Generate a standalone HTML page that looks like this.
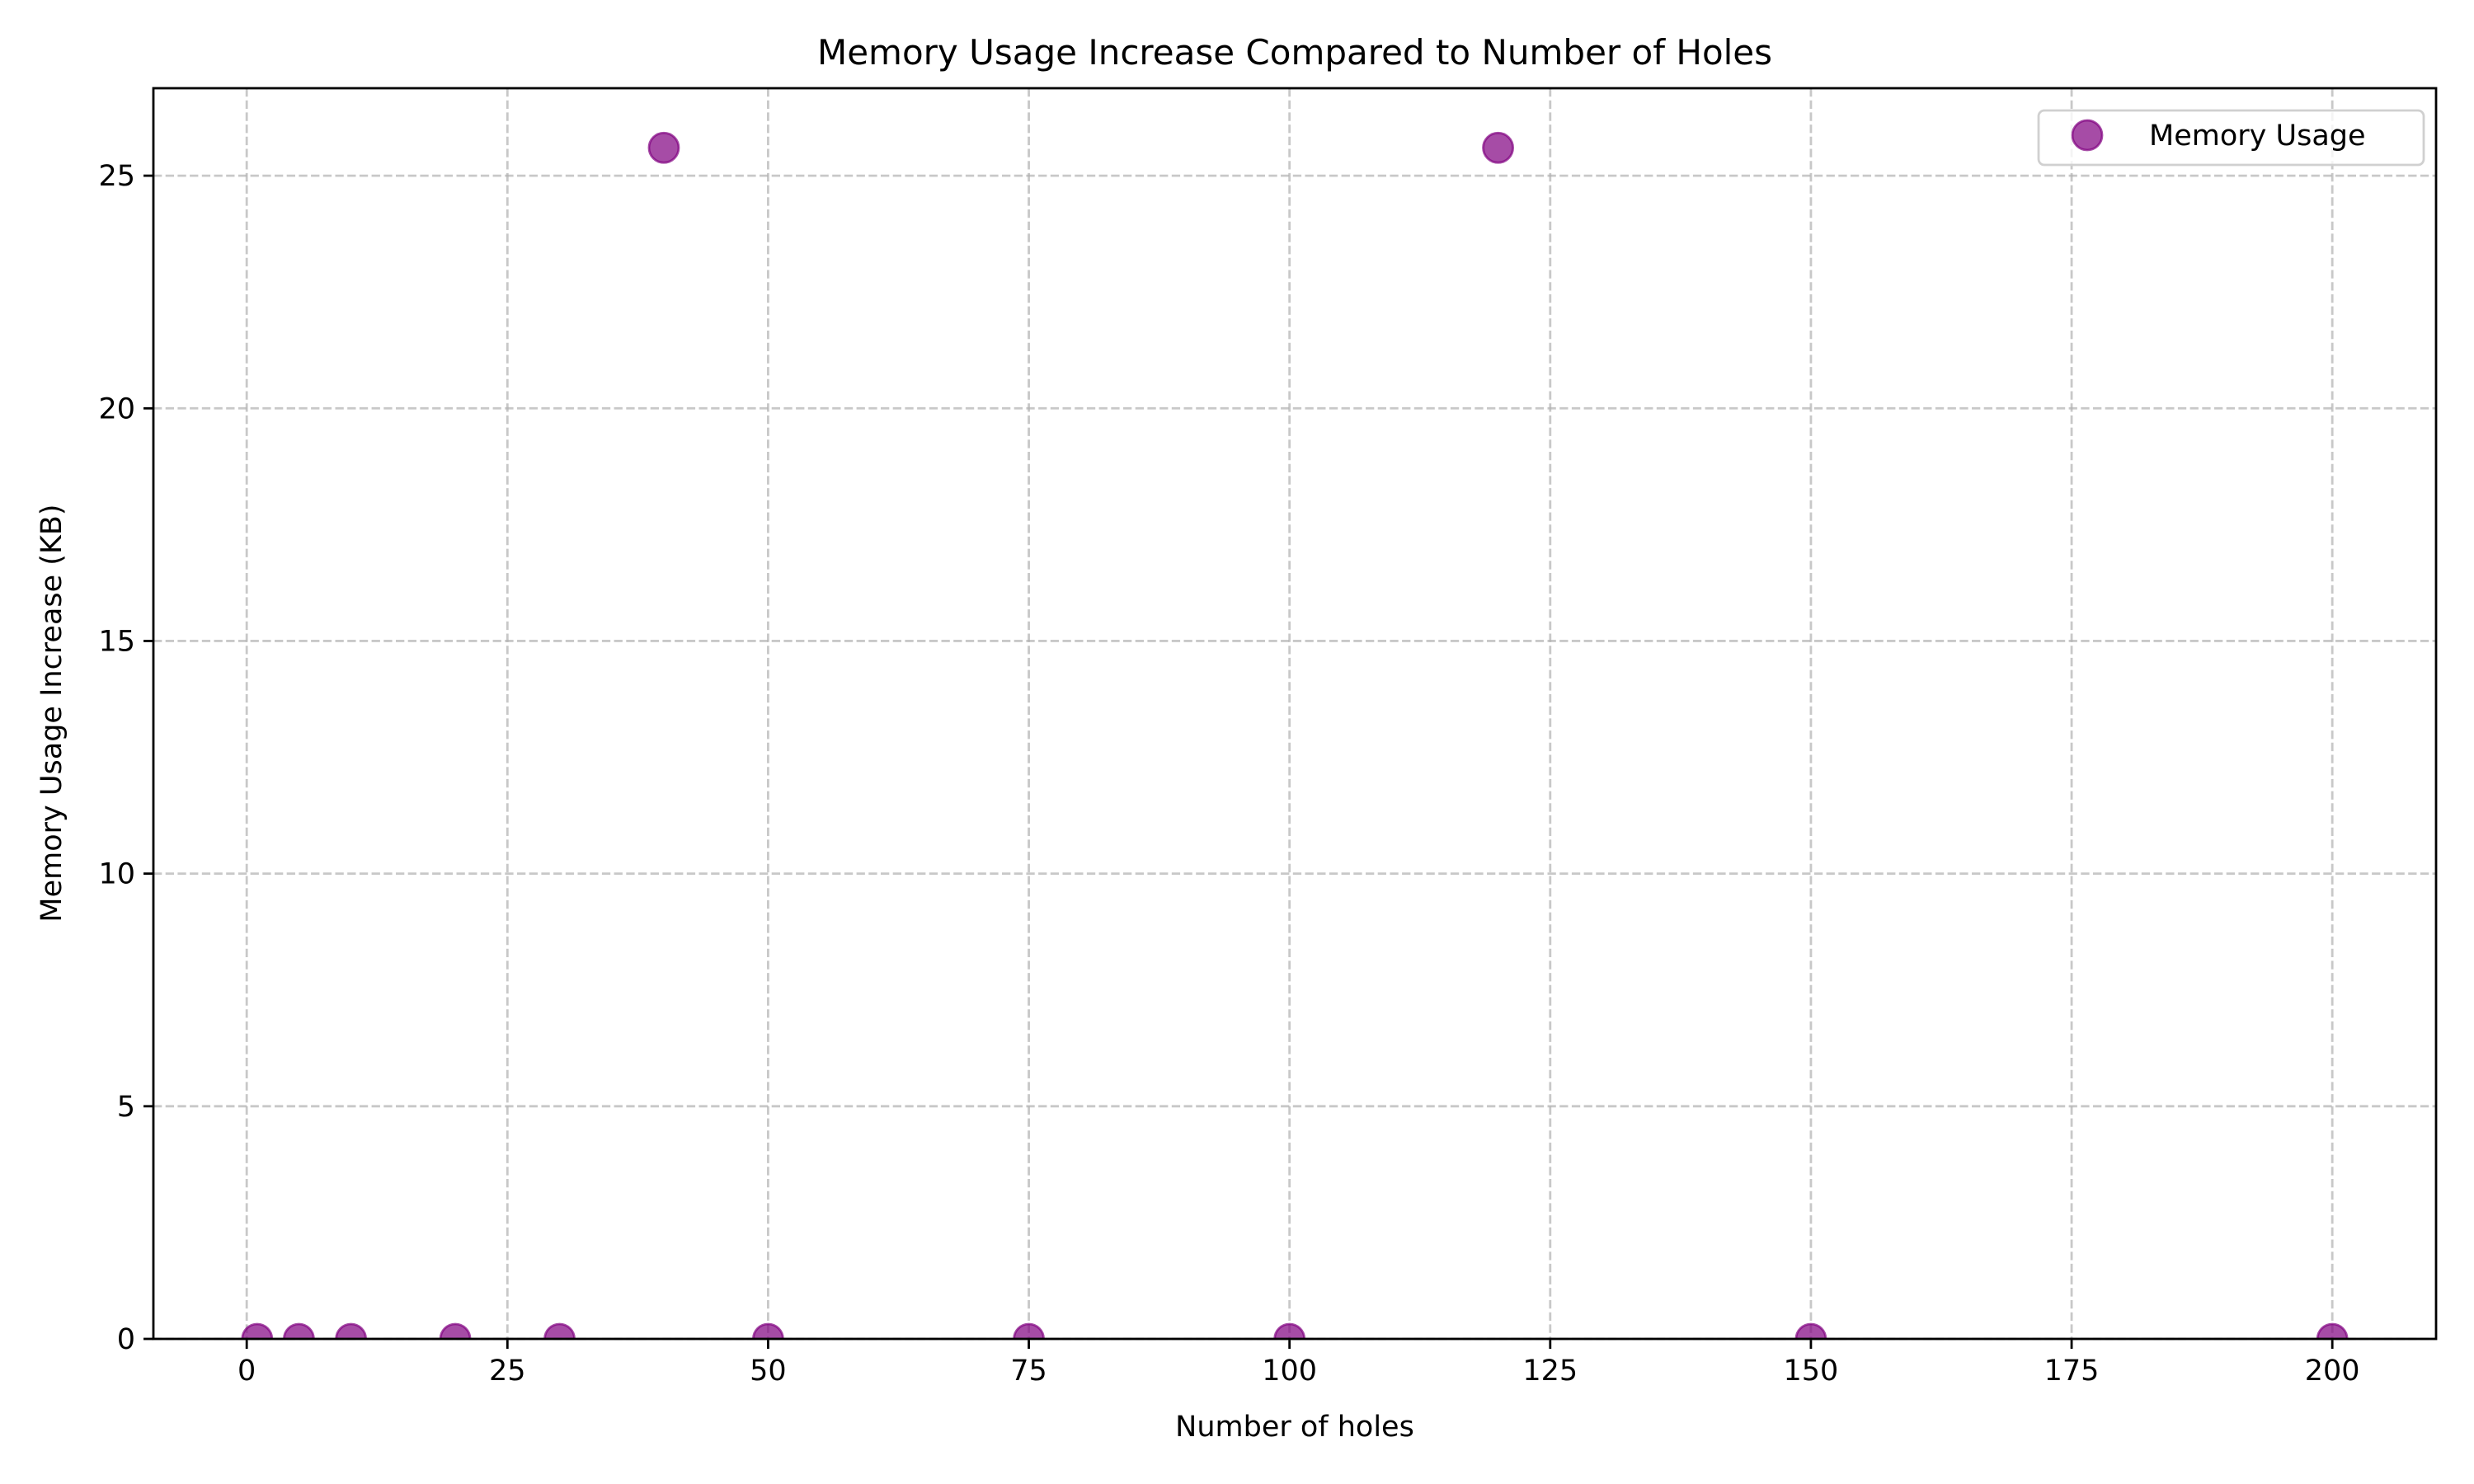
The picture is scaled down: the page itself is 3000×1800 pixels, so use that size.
<!DOCTYPE html>
<html><head><meta charset="utf-8"><style>
body{margin:0;background:#fff}
svg{display:block;font-family:"DejaVu Sans","Liberation Sans",sans-serif}
</style></head><body>
<svg id="chart" width="3000" height="1800" viewBox="0 0 3000 1800" xmlns="http://www.w3.org/2000/svg">
<defs><clipPath id="plotclip"><rect x="186" y="107" width="2768" height="1517"/></clipPath></defs>
<rect width="3000" height="1800" fill="#fff"/>
<text x="1570" y="78" font-size="42" text-anchor="middle">Memory Usage Increase Compared to Number of Holes</text>
<text x="1570" y="1742" font-size="35" text-anchor="middle">Number of holes</text>
<text x="0" y="0" font-size="35" text-anchor="middle" transform="translate(74,865) rotate(-90)">Memory Usage Increase (KB)</text>
<g id="grid"></g>
<g id="marks" clip-path="url(#plotclip)"></g>
<rect x="186" y="107" width="2768" height="1517" fill="none" stroke="#000" stroke-width="2.8"/>
<g id="ticks"></g>
<g>
<rect x="2472" y="134" width="467" height="66" rx="7" fill="#fff" fill-opacity="0.8" stroke="#d0d0d0" stroke-width="2.8"/>
<circle cx="2531" cy="164" r="18" fill="#800080" fill-opacity="0.7" stroke="#800080" stroke-opacity="0.7" stroke-width="2.8"/>
<text x="2606" y="176" font-size="35">Memory Usage</text>
</g>
</svg>
<script>
const holes = [1, 5, 10, 20, 30, 40, 50, 75, 100, 120, 150, 200];
const memory = [0, 0, 0, 0, 0, 25.6, 0, 0, 0, 25.6, 0, 0];
const xTicks = [0, 25, 50, 75, 100, 125, 150, 175, 200];
const yTicks = [0, 5, 10, 15, 20, 25];

const L=186,R=2954,T=107,B=1624;
const xMin=-8.95,xMax=209.95,yMin=0,yMax=26.88;
const sx=v=>L+(v-xMin)/(xMax-xMin)*(R-L);
const sy=v=>B-(v-yMin)/(yMax-yMin)*(B-T);
const NS='http://www.w3.org/2000/svg';
function mk(tag,attrs,parent){const e=document.createElementNS(NS,tag);for(const k in attrs)e.setAttribute(k,attrs[k]);parent.appendChild(e);return e;}
const grid=document.getElementById('grid'),ticks=document.getElementById('ticks'),marks=document.getElementById('marks');
xTicks.forEach(t=>{
  const x=sx(t);
  const g=mk('line',{x1:x,x2:x,y1:T,y2:B,stroke:'#b0b0b0','stroke-opacity':0.7,'stroke-width':2.8,'stroke-dasharray':'10.3,4.4'},grid);
  
  
  const tk=mk('line',{x1:x,x2:x,y1:B+1.4,y2:B+12,stroke:'#000','stroke-width':2.8},ticks);
  
  
  const lb=mk('text',{x:x,y:B+50,'font-size':35,'text-anchor':'middle'},ticks);
  lb.textContent=t;
  
  
});
yTicks.forEach(t=>{
  const y=sy(t);
  const g=mk('line',{x1:L,x2:R,y1:y,y2:y,stroke:'#b0b0b0','stroke-opacity':0.7,'stroke-width':2.8,'stroke-dasharray':'10.3,4.4'},grid);
  
  
  const tk=mk('line',{x1:L-12,x2:L,y1:y,y2:y,stroke:'#000','stroke-width':2.8},ticks);
  
  
  const lb=mk('text',{x:L-22,y:y+12,'font-size':35,'text-anchor':'end'},ticks);
  lb.textContent=t;
  
  
});
holes.forEach((h,i)=>{
  const c=mk('circle',{cx:sx(h),cy:sy(memory[i]),r:18,fill:'#800080','fill-opacity':0.7,stroke:'#800080','stroke-opacity':0.7,'stroke-width':2.8},marks);
  
  
});
</script>
</body></html>
